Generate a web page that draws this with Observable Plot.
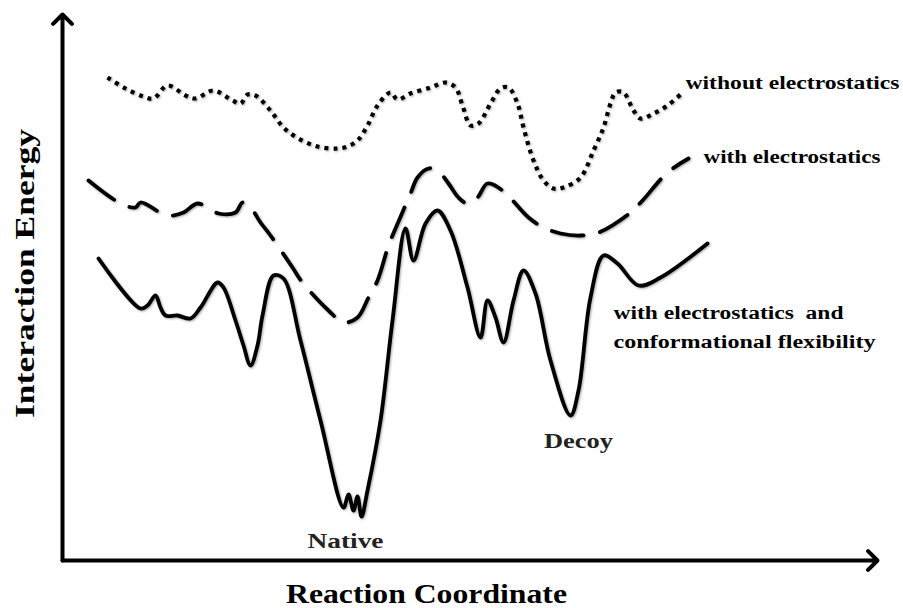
<!DOCTYPE html>
<html>
<head>
<meta charset="utf-8">
<script src="https://cdn.jsdelivr.net/npm/d3@7"></script>
<script src="https://cdn.jsdelivr.net/npm/@observablehq/plot@0.6"></script>
<style>
  html, body { margin: 0; padding: 0; background: #fff; }
  #chart svg { display: block; }
  .shadow path { filter: drop-shadow(1px 1.5px 1px rgba(0,0,0,0.35)); }
</style>
</head>
<body>
<div id="chart"></div>
<script>
// Reaction coordinate (arbitrary units) and interaction energy (arbitrary units)
const withoutX = [107,125,143,153,167,185,195,213,232,240,247,255,270,283,298,317,337,347,357,367,377,390,397,410,430,445,455,462,470,478,490,500,508,517,523,533,543,553,563,580,593,603,610,615,623,633,640,653,667,682];
const withoutE = [523,512,504,502,515,505,502,510,500,497,506,505,490,473,462,454,452,454,460,475,495,508,501,507,513,518,513,495,475,477,497,512,513,497,473,440,420,412,413,423,450,473,497,508,508,490,482,487,495,508];

const withX = [88,120,135,140,167,183,197,218,235,242,250,260,270,292,302,328,343,357,368,377,388,395,410,417,428,437,448,458,467,477,487,502,528,543,560,580,598,630,642,667,688];
const withE = [420,397,393,398,385,388,397,387,388,398,393,378,365,333,318,290,278,283,303,320,355,372,407,423,432,430,417,403,397,403,417,410,383,373,367,365,368,388,400,428,442];

const flexX = [98,140,147,155,160,165,177,190,200,217,223,235,243,250,257,262,273,283,300,320,343,348,353,357,361,367,380,392,405,413,425,437,450,467,480,487,495,503,513,523,535,550,570,578,590,603,617,638,660,707];
const flexE = [342,292,295,305,293,285,285,282,293,318,313,280,255,235,255,285,325,322,260,180,93,106,90,104,84,110,180,280,372,340,377,390,370,313,263,300,283,258,300,330,307,240,185,210,303,345,337,315,323,357];

const labelTexts = ["without electrostatics", "with electrostatics", "with electrostatics  and", "conformational flexibility"];
const labelX = [685, 703, 613, 613];
const labelE = [517, 443, 287, 258];

const minimaTexts = ["Native", "Decoy"];
const minimaX = [345, 578];
const minimaE = [60, 160];

const axisNames = ["Reaction Coordinate", "Interaction Energy"];
const axisNameX = [426, 25];
const axisNameE = [6, 327];
const originX = 62, originE = 40, endX = 877, endE = 586;

// Rendered text widths (style: the original lettering is wide)
const labelWidths = [214, 177, 230, 262];
const minimaWidths = [76, 69];
const axisNameWidths = [281, 289];

const toRows = (xs, es) => xs.map((x, i) => ({x, e: es[i]}));
const withoutData = toRows(withoutX, withoutE);
const withData = toRows(withX, withE);
const flexData = toRows(flexX, flexE);
const labels = labelTexts.map((t, i) => ({t, x: labelX[i], e: labelE[i]}));
const minima = minimaTexts.map((t, i) => ({t, x: minimaX[i], e: minimaE[i]}));
const arrows = [
  {x1: originX, y1: originE, x2: endX, y2: originE},
  {x1: originX, y1: originE, x2: originX, y2: endE}
];

const serif = "Liberation Serif, Times New Roman, serif";

const chart = Plot.plot({
  width: 903,
  height: 608,
  margin: 0,
  x: {domain: [0, 903], axis: null},
  y: {domain: [-8, 600], axis: null},
  style: {background: "#fff"},
  marks: [
    Plot.arrow(arrows, {x1: "x1", y1: "y1", x2: "x2", y2: "y2", stroke: "#000", strokeWidth: 4, headLength: 5, headAngle: 90}),
    Plot.line(withoutData, {x: "x", y: "e", curve: "catmull-rom", stroke: "#000", strokeWidth: 4.2, strokeDasharray: "4 5", strokeLinecap: "butt", className: "shadow"}),
    Plot.line(withData, {x: "x", y: "e", curve: "catmull-rom", stroke: "#000", strokeWidth: 3.8, strokeDasharray: "32 17", strokeLinecap: "round", className: "shadow"}),
    Plot.line(flexData, {x: "x", y: "e", curve: "catmull-rom", stroke: "#000", strokeWidth: 3.8, strokeLinecap: "round", strokeLinejoin: "round", className: "shadow"}),
    Plot.text(labels, {x: "x", y: "e", text: "t", textAnchor: "start", fontFamily: serif, fontWeight: "bold", fontSize: 18, fill: "#000", className: "lbl"}),
    Plot.text(minima, {x: "x", y: "e", text: "t", textAnchor: "middle", fontFamily: serif, fontWeight: "bold", fontSize: 22, fill: "#222", className: "mini"}),
    Plot.text([axisNames[0]], {x: [axisNameX[0]], y: [axisNameE[0]], text: d => d, textAnchor: "middle", fontFamily: serif, fontWeight: "bold", fontSize: 28, fill: "#000", className: "axn0"}),
    Plot.text([axisNames[1]], {x: [axisNameX[1]], y: [axisNameE[1]], text: d => d, rotate: -90, textAnchor: "middle", fontFamily: serif, fontWeight: "bold", fontSize: 28, fill: "#000", className: "axn1"})
  ]
});

function stretch(cls, widths) {
  d3.select(chart).selectAll("g." + cls + " text").each(function(_, i) {
    this.setAttribute("textLength", widths[i]);
    this.setAttribute("lengthAdjust", "spacingAndGlyphs");
  });
}
stretch("lbl", labelWidths);
stretch("mini", minimaWidths);
stretch("axn0", [axisNameWidths[0]]);
stretch("axn1", [axisNameWidths[1]]);

document.getElementById("chart").appendChild(chart);
</script>
</body>
</html>
